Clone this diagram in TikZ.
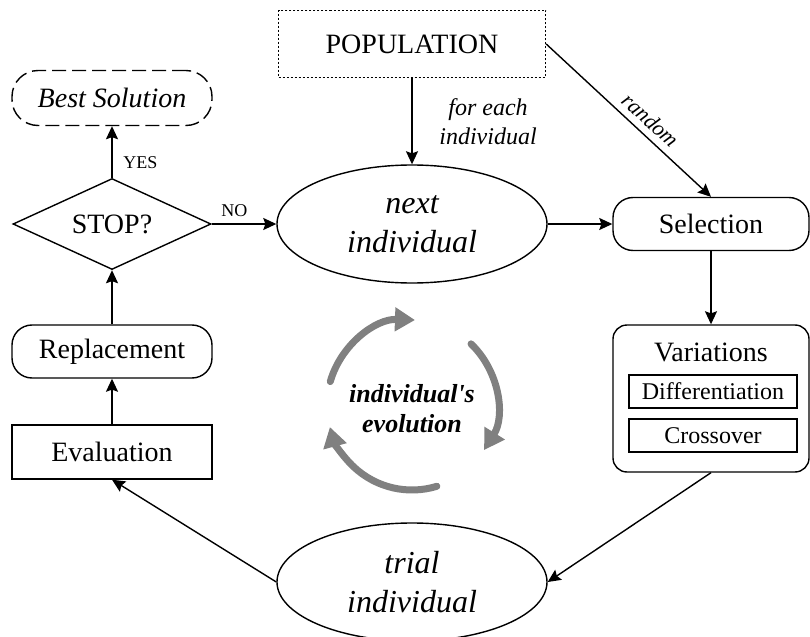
\documentclass[tikz,border=0pt]{standalone}
\usepackage{fontspec}
\setmainfont{Liberation Serif}
\usetikzlibrary{arrows.meta, shapes.geometric}

\definecolor{evogray}{RGB}{128,128,128}
\tikzset{
    box/.style={draw, line width=0.7pt, inner sep=0pt, minimum width=100pt, minimum height=27pt, font=\fontsize{14}{17}\selectfont},
    roundbox/.style={box, rounded corners=10pt},
    subbox/.style={draw, line width=0.7pt, inner sep=0pt, minimum width=84pt, minimum height=16.5pt, font=\fontsize{12}{14}\selectfont},
    indiv/.style={draw, ellipse, line width=0.7pt, inner sep=0pt, minimum width=135pt, minimum height=59pt, align=center, font=\itshape\fontsize{16}{19.5}\selectfont},
    link/.style={-{Stealth[length=6.5pt,width=6pt,inset=1pt]}, line width=0.7pt},
    lbl/.style={font=\fontsize{9}{11}\selectfont},
    evo/.style={evogray, line width=3.5pt, line cap=round, -{Triangle[length=10pt,width=11.5pt]}}
}

\begin{document}
\begin{tikzpicture}[x=0.5pt, y=-0.5pt]
        \useasboundingbox (0,0) rectangle (810,637);
        % blocks
        \node[box, dash pattern=on 1pt off 1pt, minimum width=133.5pt, minimum height=33.5pt] (pop) at (412,44) {POPULATION};
        \node[roundbox, dash pattern=on 7pt off 3pt, rounded corners=13pt, minimum height=27.5pt, font=\itshape\fontsize{14}{17}\selectfont] (best) at (112,98) {Best Solution};
        \node[box, diamond, aspect=2.2, minimum width=99pt, minimum height=45.5pt] (stop) at (112,224) {STOP?};
        \node[indiv] (next) at (412,224) {next\\individual};
        \node[roundbox, minimum width=98pt, minimum height=26.5pt] (sel) at (711,224) {Selection};
        \node[roundbox, rounded corners=7pt, minimum width=98pt, minimum height=73.5pt] (var) at (711,398.5) {};
        \node[font=\fontsize{14}{17}\selectfont] (vartitle) at (711,352) {Variations};
        \node[subbox] (diff) at (713,391.5) {Differentiation};
        \node[subbox] (cross) at (713,435.5) {Crossover};
        \node[roundbox, minimum height=26.5pt] (rep) at (112,351.5) {Replacement};
        \node[box] (eval) at (112,452) {Evaluation};
        \node[indiv] (trial) at (412,582) {trial\\individual};
        \node[align=center, font=\bfseries\itshape\fontsize{13}{15}\selectfont] (evotext) at (412,409) {individual\textquotesingle s\\evolution};
        % connectors
        \draw[link] (pop) -- node[right=10pt, align=center, font=\itshape\fontsize{12}{14.5}\selectfont] (foreach) {for each\\individual} (next);
        \draw[link] (pop.east) -- node[pos=0.57, sloped, above, font=\itshape\fontsize{11}{13}\selectfont] (rand) {random} (sel.north);
        \draw[link] (next) -- (sel);
        \draw[link] (sel) -- (var);
        \draw[link] (var.south) -- (trial.east);
        \draw[link] (trial.west) -- (eval.south);
        \draw[link] (eval) -- (rep);
        \draw[link] (rep) -- (stop);
        \draw[link] (stop) -- node[pos=0.3, right=2pt, lbl] (yes) {YES} (best);
        \draw[link] (stop) -- node[pos=0.35, above, lbl] (no) {NO} (next);
        % evolution cycle
        \coordinate (evoc) at (412,405);
        \draw[evo] ([shift={(-164:85)}]evoc) arc[start angle=-164, end angle=-88, radius=85];
        \draw[evo] ([shift={(-46:85)}]evoc) arc[start angle=-46, end angle=32, radius=85];
        \draw[evo] ([shift={(73:85)}]evoc) arc[start angle=73, end angle=165, radius=85];
\end{tikzpicture}
\end{document}
